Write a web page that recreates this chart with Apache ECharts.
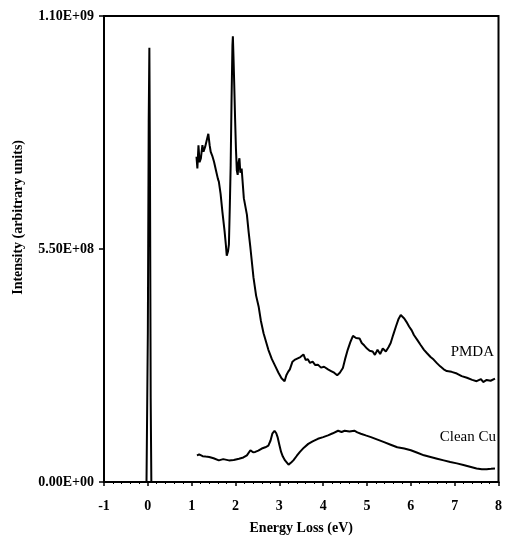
<!DOCTYPE html>
<html>
<head>
<meta charset="utf-8">
<script src="https://cdn.jsdelivr.net/npm/echarts@6/dist/echarts.min.js"></script>
<style>
  html, body { margin: 0; padding: 0; background: #fff; }
  #chart { width: 505px; height: 540px; }
</style>
</head>
<body>
<div id="chart"></div>
<script>
// values on the y axis are read in units of 1e8
var UNIT = 1e8;

var yTicks = [0, 5.5e8, 1.1e9];

// zero loss peak
var zeroX = [-1, -0.03, 0.0, 0.02, 0.035, 0.05, 0.065, 0.08, 0.2];
var zeroY = [0, 0, 3.5, 8.5, 10.25, 7.0, 2.0, 0, 0];

// PMDA curve
var pmdaX = [1.11, 1.13, 1.155, 1.18, 1.21, 1.245, 1.27, 1.307, 1.34, 1.38, 1.41, 1.435, 1.47, 1.51, 1.56, 1.60, 1.62, 1.66, 1.70, 1.75,
  1.78, 1.80, 1.83, 1.85, 1.87, 1.89, 1.91, 1.93, 1.94, 1.955, 1.97, 1.99, 2.01, 2.03, 2.05, 2.07, 2.09, 2.11, 2.14, 2.19,
  2.26, 2.30, 2.34, 2.41, 2.47, 2.53, 2.58, 2.64, 2.70, 2.75, 2.83, 2.91, 2.98, 3.05, 3.12, 3.16, 3.20, 3.24, 3.30, 3.36,
  3.42, 3.48, 3.55, 3.60, 3.65, 3.70, 3.76, 3.82, 3.88, 3.95, 4.02, 4.11, 4.18, 4.25, 4.32, 4.38, 4.45, 4.50, 4.56, 4.62,
  4.68, 4.75, 4.83, 4.88, 4.94, 5.00, 5.06, 5.13, 5.18, 5.24, 5.30, 5.36, 5.43, 5.49, 5.54, 5.60, 5.66, 5.72, 5.77, 5.81,
  5.85, 5.90, 5.96, 6.02, 6.07, 6.15, 6.22, 6.30, 6.37, 6.45, 6.52, 6.60, 6.67, 6.75, 6.82, 6.93, 7.05, 7.16, 7.28, 7.40,
  7.50, 7.60, 7.65, 7.73, 7.82, 7.92];
var pmdaY = [7.68, 7.40, 7.95, 7.55, 7.64, 7.95, 7.80, 7.91, 8.05, 8.22, 7.95, 7.79, 7.70, 7.56, 7.33, 7.15, 7.09, 6.80, 6.39, 5.93,
  5.60, 5.34, 5.45, 5.61, 6.50, 7.48, 9.04, 10.30, 10.52, 10.00, 9.43, 8.60, 7.87, 7.35, 7.25, 7.55, 7.64, 7.30, 7.40, 6.70,
  6.31, 5.90, 5.53, 4.83, 4.40, 4.13, 3.80, 3.51, 3.30, 3.12, 2.90, 2.73, 2.58, 2.45, 2.38, 2.52, 2.60, 2.66, 2.84, 2.89,
  2.92, 2.95, 3.01, 2.88, 2.90, 2.81, 2.84, 2.76, 2.77, 2.70, 2.72, 2.66, 2.62, 2.58, 2.52, 2.58, 2.69, 2.90, 3.12, 3.30,
  3.45, 3.40, 3.39, 3.28, 3.22, 3.15, 3.10, 3.08, 3.00, 3.12, 3.02, 3.15, 3.08, 3.18, 3.28, 3.48, 3.67, 3.85, 3.94, 3.90,
  3.86, 3.78, 3.67, 3.58, 3.47, 3.35, 3.24, 3.12, 3.04, 2.95, 2.89, 2.80, 2.73, 2.66, 2.62, 2.60, 2.56, 2.50, 2.46, 2.41,
  2.38, 2.43, 2.36, 2.41, 2.39, 2.44];

// Clean Cu curve
var cuX = [1.12, 1.17, 1.25, 1.32, 1.40, 1.50, 1.62, 1.72, 1.85, 1.96, 2.08, 2.18, 2.26, 2.34, 2.40, 2.45, 2.52, 2.60, 2.68, 2.75,
  2.80, 2.84, 2.89, 2.93, 2.96, 3.00, 3.04, 3.08, 3.13, 3.21, 3.27, 3.32, 3.40, 3.47, 3.56, 3.66, 3.76, 3.88, 4.00, 4.11,
  4.22, 4.34, 4.42, 4.49, 4.60, 4.71, 4.78, 4.86, 4.97, 5.09, 5.24, 5.39, 5.54, 5.69, 5.85, 6.00, 6.15, 6.30, 6.45, 6.60,
  6.75, 6.90, 7.05, 7.20, 7.35, 7.50, 7.62, 7.73, 7.83, 7.92];
var cuY = [0.63, 0.65, 0.61, 0.60, 0.59, 0.56, 0.51, 0.54, 0.51, 0.52, 0.55, 0.58, 0.63, 0.75, 0.70, 0.71, 0.74, 0.79, 0.82, 0.86,
  0.98, 1.14, 1.21, 1.15, 1.06, 0.88, 0.71, 0.60, 0.51, 0.41, 0.46, 0.51, 0.62, 0.71, 0.81, 0.90, 0.96, 1.02, 1.06, 1.10,
  1.15, 1.21, 1.18, 1.21, 1.19, 1.21, 1.17, 1.14, 1.10, 1.06, 1.00, 0.94, 0.88, 0.82, 0.79, 0.75, 0.69, 0.63, 0.59, 0.55,
  0.51, 0.47, 0.44, 0.40, 0.36, 0.32, 0.30, 0.30, 0.31, 0.32];

function pairs(xs, ys) {
  var out = [];
  for (var i = 0; i < xs.length; i++) out.push([xs[i], ys[i] * UNIT]);
  return out;
}

function sci(v) {
  if (v === 0) return '0.00E+00';
  var e = Math.floor(Math.log10(v) + 1e-9);
  var m = v / Math.pow(10, e);
  return m.toFixed(2) + 'E+' + (e < 10 ? '0' : '') + e;
}

var font = 'Liberation Serif';
var lineStyle = { color: '#000', width: 2 };

var myChart = echarts.init(document.getElementById('chart'));
var option = {
  backgroundColor: '#fff',
  animation: false,
  grid: {
    left: 104, right: 3, top: 16, bottom: 53,
    show: true, borderColor: '#000', borderWidth: 2, backgroundColor: 'transparent'
  },
  xAxis: {
    type: 'value',
    min: -1, max: 8, interval: 1,
    name: 'Energy Loss (eV)',
    nameLocation: 'middle',
    nameGap: 39,
    nameTextStyle: { fontFamily: font, fontWeight: 'bold', fontSize: 14, color: '#000' },
    axisLine: { onZero: false, lineStyle: { color: '#000', width: 2 } },
    axisTick: { length: 4, lineStyle: { color: '#000', width: 1.5 } },
    minorTick: { show: true, splitNumber: 5, length: 2, lineStyle: { color: '#000' } },
    splitLine: { show: false },
    axisLabel: { margin: 17, fontFamily: font, fontWeight: 'bold', fontSize: 14, color: '#000' }
  },
  yAxis: {
    type: 'value',
    min: yTicks[0], max: yTicks[2], interval: yTicks[1],
    axisLine: { show: true, onZero: false, lineStyle: { color: '#000', width: 2 } },
    axisTick: { show: true, length: 5, lineStyle: { color: '#000', width: 1.5 } },
    splitLine: { show: false },
    axisLabel: {
      margin: 10, fontFamily: font, fontWeight: 'bold', fontSize: 14, color: '#000',
      formatter: sci
    }
  },
  graphic: [
    {
      type: 'text', left: 11, top: 140, rotation: Math.PI / 2,
      style: { text: 'Intensity (arbitrary units)', fontFamily: font, fontWeight: 'bold', fontSize: 14, fill: '#000' }
    },
    {
      type: 'text', right: 11, top: 345,
      style: { text: 'PMDA', fontFamily: font, fontSize: 15, fill: '#000' }
    },
    {
      type: 'text', right: 9, top: 430,
      style: { text: 'Clean Cu', fontFamily: font, fontSize: 15, fill: '#000' }
    }
  ],
  series: [
    { name: 'Zero loss', type: 'line', showSymbol: false, data: pairs(zeroX, zeroY), lineStyle: lineStyle },
    { name: 'PMDA', type: 'line', showSymbol: false, data: pairs(pmdaX, pmdaY), lineStyle: lineStyle },
    { name: 'Clean Cu', type: 'line', showSymbol: false, data: pairs(cuX, cuY), lineStyle: lineStyle }
  ]
};
myChart.setOption(option);
</script>
</body>
</html>
